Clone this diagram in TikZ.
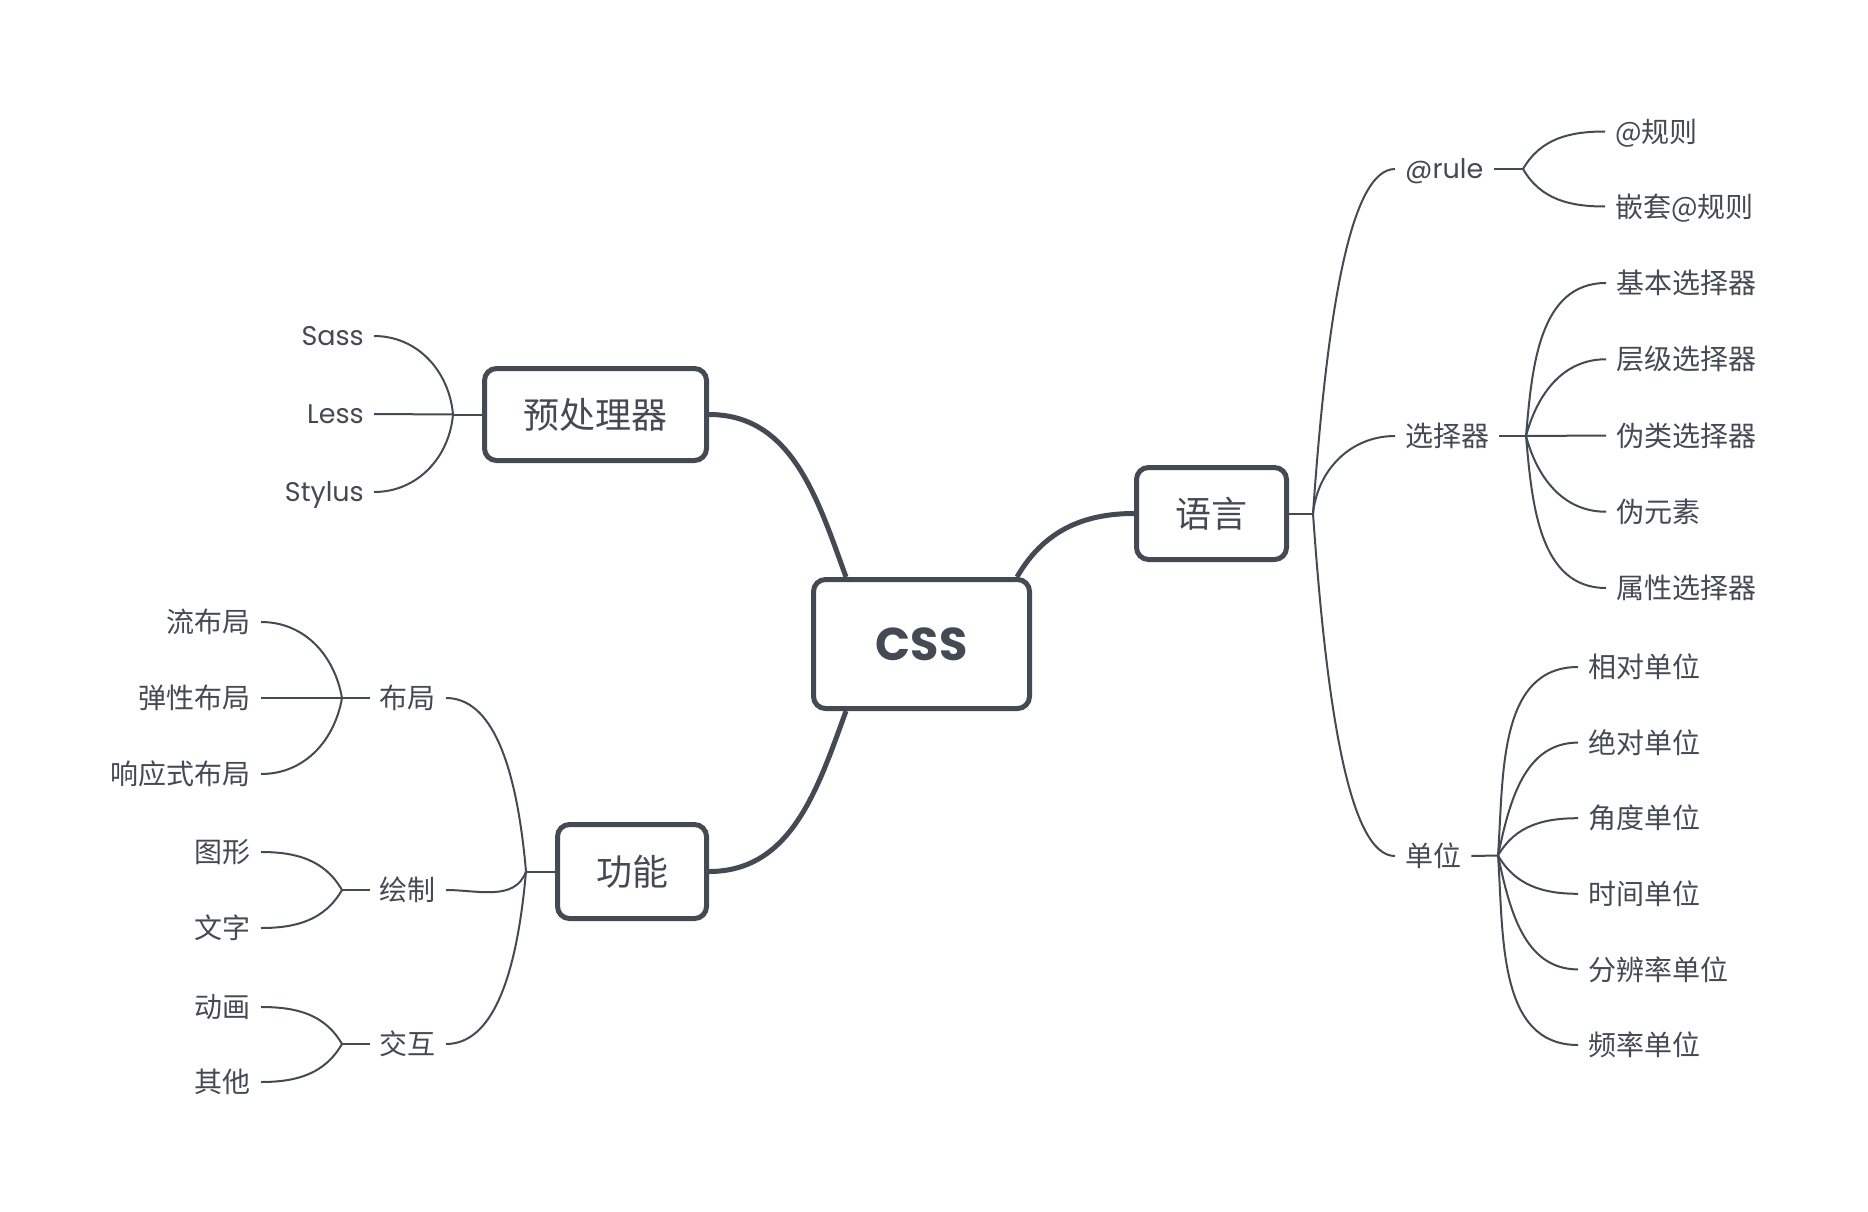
\documentclass[tikz,border=0pt]{standalone}
\usepackage{fontspec}
\setmainfont{Noto Sans CJK SC}
\newfontfamily\latinfont{Poppins}
\usetikzlibrary{positioning,calc}
\definecolor{inkgray}{HTML}{434A54}

\begin{document}
\begin{tikzpicture}[x=1pt,y=1pt,
  every node/.style={text=inkgray,inner sep=0pt},
  mainnode/.style={draw=inkgray,line width=5pt,rounded corners=12pt,
    minimum height=92pt,text height=31.7pt,text depth=4.3pt,
    font=\fontsize{36}{36}\selectfont},
  subnode/.style={inner xsep=10pt,text height=24.6pt,text depth=3.4pt,
    font=\fontsize{28}{28}\selectfont},
  leafnode/.style={inner xsep=10pt,text height=24.6pt,text depth=3.4pt,
    font=\fontsize{28}{28}\selectfont},
  latin/.style={text height=19.5pt,text depth=0pt,font=\latinfont\fontsize{27}{27}\selectfont},
  trunk/.style={draw=inkgray,line width=5pt},
  twig/.style={draw=inkgray,line width=2pt},
  toR/.style={out=#1,in=180},
  toL/.style={out=#1,in=0}
]
\useasboundingbox (0,0) rectangle (1868,-1212);

\node[mainnode,minimum width=216pt,minimum height=129pt,text height=33pt,text depth=0pt,
  font=\latinfont\bfseries\fontsize{46}{46}\selectfont] (css) at (921.5,-644) {CSS};
\node[mainnode,minimum width=222pt] (pre) at (595.5,-414.5) {预处理器};
\node[mainnode,minimum width=150pt] (lang) at (1211.5,-513.5) {语言};
\node[mainnode,minimum width=149pt,minimum height=94pt] (func) at (632,-871.5) {功能};

\coordinate (cssA) at ([xshift=35pt]css.north west);
\coordinate (cssB) at ([xshift=35pt]css.south west);
\coordinate (cssC) at ([xshift=-15pt]css.north east);
\draw[trunk] (pre.east) to[out=0,in=110] (cssA);
\draw[trunk] (func.east) to[out=0,in=-110] (cssB);
\draw[trunk] (cssC) to[out=60,in=180] (lang.west);

\coordinate (spineR) at (1313,-513.5);
\draw[twig] (lang.east) -- (spineR);
\node[subnode,latin,anchor=west] (rule) at (1395,-169) {@rule};
\node[subnode,anchor=west] (sel) at (1395,-436) {选择器};
\node[subnode,anchor=west] (unit) at (1395,-856) {单位};
\draw[twig] (spineR) to[toR=86,out distance=200pt,in distance=45pt] (rule.west);
\draw[twig] (spineR) to[toR=84] (sel.west);
\draw[twig] (spineR) to[toR=-86,out distance=200pt,in distance=45pt] (unit.west);

\coordinate (rfork) at (1523,-169);
\draw[twig] (rule.east) -- (rfork);
\foreach \t [count=\i] in {@规则,嵌套@规则}
  \node[leafnode,anchor=west] (r\i) at (1605,{-131.5-75*(\i-1)}) {\t};
\draw[twig] (rfork) to[toR=60] (r1.west);
\draw[twig] (rfork) to[toR=-60] (r2.west);

\coordinate (sfork) at (1526,-436);
\draw[twig] (sel.east) -- (sfork);
\foreach \t [count=\i] in {基本选择器,层级选择器,伪类选择器,伪元素,属性选择器}
  \node[leafnode,anchor=west] (s\i) at (1606,{-283-76.25*(\i-1)}) {\t};
\foreach \i/\a in {1/85,2/75}
  \draw[twig] (sfork) to[toR=\a] (s\i.west);
\draw[twig] (sfork) -- (s3.west);
\foreach \i/\a in {4/-75,5/-85}
  \draw[twig] (sfork) to[toR=\a] (s\i.west);

\coordinate (ufork) at (1498,-855.5);
\draw[twig] (unit.east) -- (ufork);
\foreach \t [count=\i] in {相对单位,绝对单位,角度单位,时间单位,分辨率单位,频率单位}
  \node[leafnode,anchor=west] (u\i) at (1578,{-667-75.6*(\i-1)}) {\t};
\foreach \i/\a in {1/86,2/78,3/60,4/-60,5/-78,6/-86}
  \draw[twig] (ufork) to[toR=\a] (u\i.west);

\coordinate (pfork) at (453,-414.5);
\draw[twig] (pre.west) -- (pfork);
\foreach \t [count=\i] in {Sass,Less,Stylus}
  \node[leafnode,latin,anchor=east] (p\i) at (374,{-336-78*(\i-1)}) {\t};
\draw[twig] (pfork) to[toL=95] (p1.east);
\draw[twig] (pfork) -- (p2.east);
\draw[twig] (pfork) to[toL=-95] (p3.east);

\coordinate (spineL) at (526,-871.5);
\draw[twig] (func.west) -- (spineL);
\node[subnode,anchor=east] (layout) at (446,-698) {布局};
\node[subnode,anchor=east] (paint) at (446,-890) {绘制};
\node[subnode,anchor=east] (interact) at (446,-1044) {交互};
\draw[twig] (spineL) to[toL=95,out distance=110pt,in distance=45pt] (layout.east);
\draw[twig] (spineL) to[toL=-110] (paint.east);
\draw[twig] (spineL) to[toL=-95,out distance=110pt,in distance=45pt] (interact.east);

\coordinate (lfork) at (342,-698);
\draw[twig] (layout.west) -- (lfork);
\foreach \t [count=\i] in {流布局,弹性布局,响应式布局}
  \node[leafnode,anchor=east] (l\i) at (261,{-622-76*(\i-1)}) {\t};
\draw[twig] (lfork) to[toL=100] (l1.east);
\draw[twig] (lfork) -- (l2.east);
\draw[twig] (lfork) to[toL=-100] (l3.east);

\coordinate (dfork) at (342,-890);
\draw[twig] (paint.west) -- (dfork);
\foreach \t [count=\i] in {图形,文字}
  \node[leafnode,anchor=east] (d\i) at (261,{-852-76*(\i-1)}) {\t};
\draw[twig] (dfork) to[toL=120] (d1.east);
\draw[twig] (dfork) to[toL=-120] (d2.east);

\coordinate (xfork) at (342,-1044);
\draw[twig] (interact.west) -- (xfork);
\foreach \t [count=\i] in {动画,其他}
  \node[leafnode,anchor=east] (x\i) at (261,{-1007-75*(\i-1)}) {\t};
\draw[twig] (xfork) to[toL=120] (x1.east);
\draw[twig] (xfork) to[toL=-120] (x2.east);
\end{tikzpicture}
\end{document}
